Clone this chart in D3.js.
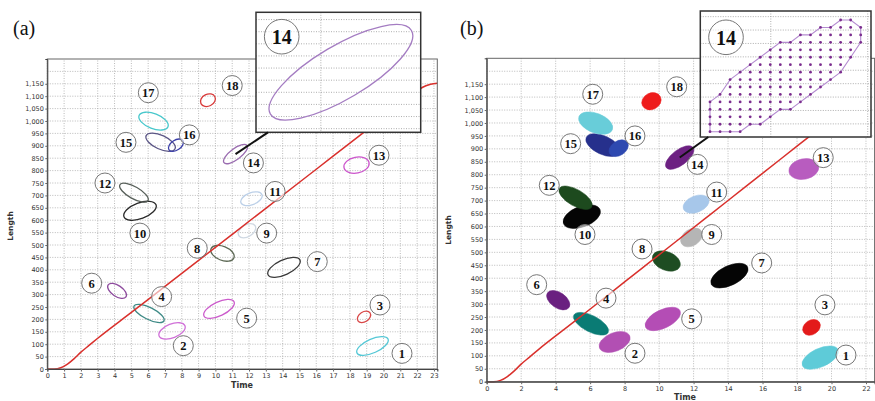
<!DOCTYPE html>
<meta charset="utf-8">
<script src="https://d3js.org/d3.v7.min.js"></script>
<style>
  body { margin: 0; background: #fff; }
  .tick text { font-family: "DejaVu Sans", sans-serif; font-size: 6.5px; fill: #333; }
  .tick line { stroke: #666; }
</style>
<div id="chart"></div>
<script>

// cluster ids and the two ends of each cluster's long axis (time, length)
var clusterIds = [1, 2, 3, 4, 5, 6, 7, 8, 9, 10, 11, 12, 13, 14, 15, 16, 17, 18];
var clusterStart = [[18.42, 65], [6.65, 133], [18.48, 194], [5.16, 254], [9.32, 214], [3.62, 339],
                    [13.13, 380], [9.74, 485], [11.4, 537], [4.56, 614], [11.52, 670], [4.32, 743],
                    [17.65, 812], [10.51, 832], [5.88, 941], [7.24, 884], [5.46, 1022], [9.14, 1070]];
var clusterEnd = [[20.27, 121], [8.19, 174], [19.2, 226], [6.94, 194], [11.11, 271], [4.68, 291],
                  [15.03, 440], [11.1, 448], [12.36, 578], [6.47, 662], [12.77, 703], [5.99, 679],
                  [19.14, 832], [11.88, 901], [7.6, 888], [8.07, 921], [7.18, 977], [9.97, 1098]];
// half width across the long axis, in length units
var clusterWidth = [28, 28, 20, 24, 28, 22, 30, 28, 24, 32, 24, 24, 32, 22, 28, 20, 30, 24];

var outlineColors = ["#55c8d6", "#d070d8", "#d94848", "#3e8a86", "#cc5ccc", "#8e4c9e", "#3a3a3a", "#5e6a56", "#cfd8e2",
                     "#2a2a2a", "#bcd0e8", "#58605a", "#cc55cc", "#9a6cb0", "#5a5585", "#3b3fa8", "#48c8cc", "#d83a3a"];
var fillColors = ["#5ecbd8", "#b24fb3", "#e31b1b", "#0a7b74", "#b44db5", "#6a2080", "#050505", "#1e4d22", "#b5b5b5",
                  "#050505", "#a7c7ea", "#1d4a1e", "#b85cbf", "#6d2182", "#26308c", "#2e49b0", "#68cdd9", "#ee1c1c"];

// where the numbered labels sit (time, length)
var labelPosA = [[21.1, 63], [8.09, 94], [19.79, 258], [6.8, 292], [11.86, 205], [2.64, 346], [16.06, 433], [8.92, 487],
                 [13.05, 548], [5.51, 548], [13.55, 716], [3.43, 750], [19.73, 862], [12.26, 831], [4.68, 914],
                 [8.45, 944], [6.01, 1114], [11.0, 1143]];
var labelPosB = [[20.84, 103], [8.6, 110], [19.62, 297], [6.92, 323], [11.89, 243], [2.9, 375], [15.95, 459], [9.01, 513],
                 [13.05, 569], [5.7, 569], [13.34, 733], [3.63, 759], [19.52, 866], [12.22, 840], [4.87, 920],
                 [8.6, 950], [6.15, 1111], [11.02, 1140]];

// growth curve
var growthT = [0, 0.4, 0.8, 1.2, 1.6, 2.0, 2.5, 3.0, 5.0, 7.0, 9.0, 11.0, 13.0, 15.0, 17.0, 19.0, 21.0, 21.8, 22.3, 22.8, 23.2];
var growthL = [0, 0, 5, 20, 42, 68, 96, 124, 228, 333, 438, 543, 648, 753, 858, 963, 1068, 1108, 1135, 1148, 1152];

var xTicksA = [0, 1, 2, 3, 4, 5, 6, 7, 8, 9, 10, 11, 12, 13, 14, 15, 16, 17, 18, 19, 20, 21, 22, 23];
var xTicksB = [0, 2, 4, 6, 8, 10, 12, 14, 16, 18, 20, 22];
var yTicks = [0, 50, 100, 150, 200, 250, 300, 350, 400, 450, 500, 550, 600, 650, 700, 750, 800, 850, 900,
              950, 1000, 1050, 1100, 1150];
var yGrid = [50, 100, 150, 200, 250, 300, 350, 400, 450, 500, 550, 600, 650, 700, 750, 800, 850, 900, 950,
             1000, 1050, 1100, 1150, 1200];

// inset (a): zoomed window on cluster 14
var insetATime = [10.37, 11.97], insetALen = [817, 916];
var insetAGridT = [11], insetAGridL = [820, 830, 840, 850, 860, 870, 880, 890, 900, 910];

// inset (b): sampled cells of cluster 14, in (column, row) of the sampling lattice
var insetBOutline = [[0, 11], [1, 10], [2, 8], [3, 7], [4, 6], [5, 5], [6, 4], [7, 3], [8, 3], [9, 2], [10, 2],
                     [11, 1], [12, 1], [13, 0], [14, 0], [15, 1], [15, 3], [14, 5], [13, 7], [12, 8], [11, 9],
                     [10, 10], [9, 11], [8, 12], [7, 12], [6, 13], [5, 14], [4, 14], [3, 15], [2, 15], [1, 15], [0, 15]];
var insetBGridRows = [-0.45, 1.35, 3.15, 4.95, 6.75, 8.55, 10.35, 12.15, 13.95];
var insetBGridCols = [6.05, 15.7];

var W = 875, H = 401;
var svg = d3.select("#chart").append("svg")
    .attr("width", W).attr("height", H);

var growthPts = growthT.map(function(t, i) { return [t, growthL[i]]; });

function ellipseGeom(i, x, y) {
  var x1 = x(clusterStart[i][0]), y1 = y(clusterStart[i][1]);
  var x2 = x(clusterEnd[i][0]), y2 = y(clusterEnd[i][1]);
  return {
    cx: (x1 + x2) / 2, cy: (y1 + y2) / 2,
    rx: Math.hypot(x2 - x1, y2 - y1) / 2,
    ry: Math.abs(y(0) - y(clusterWidth[i])),
    ang: Math.atan2(y2 - y1, x2 - x1) * 180 / Math.PI
  };
}

function drawLabel(g, cx, cy, r, txt, size) {
  g.append("circle").attr("cx", cx).attr("cy", cy).attr("r", r)
    .attr("fill", "#fff").attr("fill-opacity", 0.6)
    .attr("stroke", "#777").attr("stroke-width", 1);
  g.append("text").attr("x", cx).attr("y", cy)
    .attr("dy", "0.36em")
    .attr("text-anchor", "middle")
    .attr("font-family", "Liberation Serif, serif")
    .attr("font-weight", "bold")
    .attr("font-size", size)
    .attr("fill", "#111")
    .text(txt);
}

function drawPanel(p) {
  var x = d3.scaleLinear().domain([0, p.tMax]).range([p.left, p.right]);
  var y = d3.scaleLinear().domain([0, 1250]).range([p.bottom, p.top]);
  var g = svg.append("g");

  // grid
  g.append("g").selectAll("line").data(p.gridT).enter().append("line")
    .attr("x1", function(d) { return x(d); }).attr("x2", function(d) { return x(d); })
    .attr("y1", y(0)).attr("y2", y(1250))
    .attr("stroke", "#aaa").attr("stroke-width", 0.8).attr("stroke-dasharray", "1,1.5");
  g.append("g").selectAll("line").data(yGrid).enter().append("line")
    .attr("y1", function(d) { return y(d); }).attr("y2", function(d) { return y(d); })
    .attr("x1", x(0)).attr("x2", x(p.tMax))
    .attr("stroke", "#aaa").attr("stroke-width", 0.8).attr("stroke-dasharray", "1,1.5");

  // clusters
  g.append("g").selectAll("ellipse").data(clusterIds).enter().append("ellipse")
    .each(function(d, i) {
      var e = ellipseGeom(i, x, y);
      d3.select(this)
        .attr("cx", 0).attr("cy", 0).attr("rx", e.rx + p.pad).attr("ry", e.ry + p.pad)
        .attr("transform", "translate(" + e.cx + "," + e.cy + ") rotate(" + e.ang + ")");
    })
    .attr("fill", function(d, i) { return p.filled ? fillColors[i] : "none"; })
    .attr("stroke", function(d, i) { return p.filled ? fillColors[i] : outlineColors[i]; })
    .attr("stroke-width", p.filled ? 0.5 : 1.3);

  // growth curve
  g.append("path").datum(growthPts.filter(function(d) { return d[0] <= p.tMax; }))
    .attr("fill", "none").attr("stroke", "#d9302c").attr("stroke-width", 1.5)
    .attr("d", d3.line().x(function(d) { return x(d[0]); }).y(function(d) { return y(d[1]); })
      .curve(d3.curveMonotoneX));

  // numbered labels
  clusterIds.forEach(function(id, i) {
    drawLabel(g, x(p.labels[i][0]), y(p.labels[i][1]), 10, id, "12.5px");
  });

  // frame and axes
  g.append("rect").attr("x", x(0)).attr("y", y(1250))
    .attr("width", x(p.tMax) - x(0)).attr("height", y(0) - y(1250))
    .attr("fill", "none").attr("stroke", "#666").attr("stroke-width", 1);

  var xa = g.append("g").attr("transform", "translate(0," + y(0) + ")")
    .call(d3.axisBottom(x).tickValues(p.xTicks).tickSize(2.5).tickPadding(2).tickFormat(d3.format("d")));
  xa.select(".domain").attr("stroke", "#444").attr("stroke-width", 1.2);
  var ya = g.append("g").attr("transform", "translate(" + x(0) + ",0)")
    .call(d3.axisLeft(y).tickValues(yTicks).tickSize(2).tickPadding(1.5).tickFormat(d3.format(",")));
  ya.select(".domain").attr("stroke", "#444").attr("stroke-width", 1);

  g.append("text")
    .attr("transform", "translate(" + p.lenX + "," + p.lenY + ") rotate(-90)")
    .attr("text-anchor", "middle")
    .attr("font-family", "DejaVu Sans, sans-serif").attr("font-weight", "bold")
    .attr("font-size", "7.5px").attr("fill", "#333")
    .text("Length");
  g.append("text").attr("x", p.timeX).attr("y", p.timeY)
    .attr("text-anchor", "middle")
    .attr("font-family", "DejaVu Sans, sans-serif").attr("font-weight", "bold")
    .attr("font-size", "8px").attr("fill", "#333")
    .text("Time");

  g.append("text").attr("x", p.tagX).attr("y", 35)
    .attr("font-family", "Liberation Serif, serif").attr("font-size", "20px").attr("fill", "#111")
    .text(p.tag);

  return { x: x, y: y, g: g };
}

// ---------- panel (a) ----------
var pa = drawPanel({
  left: 47.3, right: 437.3, top: 59, bottom: 369, tMax: 23.2, pad: 0,
  gridT: xTicksA, xTicks: xTicksA, filled: false, labels: labelPosA,
  lenX: 13, lenY: 226, timeX: 242, timeY: 387.5, tag: "(a)", tagX: 13
});

// ---------- panel (b) ----------
var pb = drawPanel({
  left: 486.7, right: 874.6, top: 58.3, bottom: 381.7, tMax: 22.5, pad: 2,
  gridT: xTicksB, xTicks: xTicksB, filled: true, labels: labelPosB,
  lenX: 451, lenY: 230, timeX: 685, timeY: 399.5, tag: "(b)", tagX: 460
});

// ---------- inset (a) ----------
var boxA = { x: 256, y: 12.3, w: 164.7, h: 120 };
var ga = svg.append("g");
var e14 = ellipseGeom(13, pa.x, pa.y);
ga.append("rect").attr("x", boxA.x).attr("y", boxA.y).attr("width", boxA.w).attr("height", boxA.h)
  .attr("fill", "#fff");
var ix = d3.scaleLinear().domain(insetATime).range([boxA.x, boxA.x + boxA.w]);
var iy = d3.scaleLinear().domain(insetALen).range([boxA.y + boxA.h, boxA.y]);
ga.selectAll("line.gl").data(insetAGridL).enter().append("line")
  .attr("x1", boxA.x).attr("x2", boxA.x + boxA.w)
  .attr("y1", function(d) { return iy(d); }).attr("y2", function(d) { return iy(d); })
  .attr("stroke", "#999").attr("stroke-width", 0.8).attr("stroke-dasharray", "1,1.5");
ga.selectAll("line.gt").data(insetAGridT).enter().append("line")
  .attr("y1", boxA.y).attr("y2", boxA.y + boxA.h)
  .attr("x1", function(d) { return ix(d); }).attr("x2", function(d) { return ix(d); })
  .attr("stroke", "#999").attr("stroke-width", 0.8).attr("stroke-dasharray", "1,1.5");
var ie = ellipseGeom(13, ix, iy);
ga.append("ellipse").attr("rx", ie.rx).attr("ry", ie.ry)
  .attr("transform", "translate(" + ie.cx + "," + ie.cy + ") rotate(" + ie.ang + ")")
  .attr("fill", "none").attr("stroke", "#a47cc2").attr("stroke-width", 1.3);
ga.append("rect").attr("x", boxA.x).attr("y", boxA.y).attr("width", boxA.w).attr("height", boxA.h)
  .attr("fill", "none").attr("stroke", "#333").attr("stroke-width", 1.5);
drawLabel(ga, boxA.x + 25.7, boxA.y + 24.4, 17.3, "14", "20px");
ga.append("line").attr("x1", e14.cx).attr("y1", e14.cy)
  .attr("x2", boxA.x + 12).attr("y2", boxA.y + boxA.h)
  .attr("stroke", "#111").attr("stroke-width", 2);

// ---------- inset (b) ----------
var boxB = { x: 700.3, y: 11, w: 170.7, h: 126 };
var gb = svg.append("g");
var f14 = ellipseGeom(13, pb.x, pb.y);
gb.append("rect").attr("x", boxB.x).attr("y", boxB.y).attr("width", boxB.w).attr("height", boxB.h)
  .attr("fill", "#fff");
var cx = d3.scaleLinear().domain([0, 15]).range([710, 860.7]);
var ry = d3.scaleLinear().domain([0, 15]).range([20, 131.7]);
gb.selectAll("line.gr").data(insetBGridRows).enter().append("line")
  .attr("x1", boxB.x).attr("x2", boxB.x + boxB.w)
  .attr("y1", function(d) { return ry(d); }).attr("y2", function(d) { return ry(d); })
  .attr("stroke", "#999").attr("stroke-width", 0.8).attr("stroke-dasharray", "1,1.5");
gb.selectAll("line.gc").data(insetBGridCols).enter().append("line")
  .attr("y1", boxB.y).attr("y2", boxB.y + boxB.h)
  .attr("x1", function(d) { return cx(d); }).attr("x2", function(d) { return cx(d); })
  .attr("stroke", "#999").attr("stroke-width", 0.8).attr("stroke-dasharray", "1,1.5");

gb.append("path").datum(insetBOutline)
  .attr("fill", "none").attr("stroke", "#b48bd0").attr("stroke-width", 1.1)
  .attr("d", d3.line().x(function(d) { return cx(d[0]); }).y(function(d) { return ry(d[1]); }).curve(d3.curveLinearClosed));

function onEdge(pt, poly) {
  for (var i = 0; i < poly.length; i++) {
    var a = poly[i], b = poly[(i + 1) % poly.length];
    var cr = (b[0] - a[0]) * (pt[1] - a[1]) - (b[1] - a[1]) * (pt[0] - a[0]);
    if (Math.abs(cr) < 1e-9 &&
        pt[0] >= Math.min(a[0], b[0]) && pt[0] <= Math.max(a[0], b[0]) &&
        pt[1] >= Math.min(a[1], b[1]) && pt[1] <= Math.max(a[1], b[1])) return true;
  }
  return false;
}
var cells = [];
d3.range(0, 16).forEach(function(c) {
  d3.range(0, 16).forEach(function(r) {
    if (d3.polygonContains(insetBOutline, [c, r]) || onEdge([c, r], insetBOutline)) cells.push([c, r]);
  });
});
gb.selectAll("circle.cell").data(cells).enter().append("circle")
  .attr("cx", function(d) { return cx(d[0]); }).attr("cy", function(d) { return ry(d[1]); })
  .attr("r", 1.4).attr("fill", "#7b2d8e");

gb.append("rect").attr("x", boxB.x).attr("y", boxB.y).attr("width", boxB.w).attr("height", boxB.h)
  .attr("fill", "none").attr("stroke", "#333").attr("stroke-width", 1.5);
drawLabel(gb, 726, 37.3, 17.3, "14", "20px");
gb.append("line").attr("x1", f14.cx).attr("y1", f14.cy)
  .attr("x2", boxB.x + 8).attr("y2", boxB.y + boxB.h)
  .attr("stroke", "#111").attr("stroke-width", 2);

</script>
